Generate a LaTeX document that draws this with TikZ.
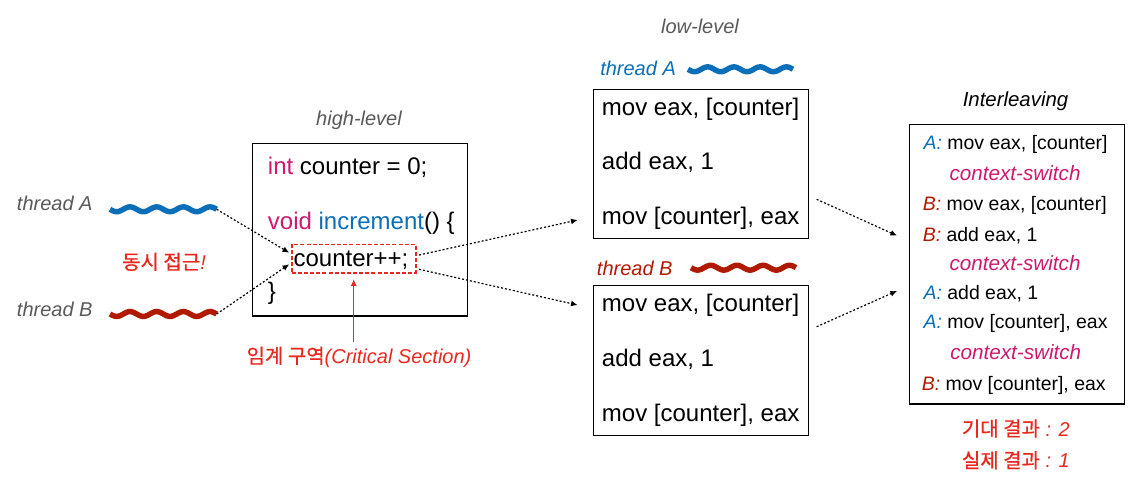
\documentclass[tikz,border=0pt]{standalone}
\usepackage{fontspec}
\setmainfont{Liberation Sans}
\newfontfamily\kr[FakeBold=0.8]{Noto Sans CJK KR}
\usetikzlibrary{arrows.meta,calc,fit}
\definecolor{tblue}{HTML}{0B6EB8}
\definecolor{tred}{HTML}{B01A00}
\definecolor{tmag}{HTML}{D0186E}
\definecolor{alert}{HTML}{E8281E}
\definecolor{lgray}{HTML}{595959}
\begin{document}
\begin{tikzpicture}[x=0.75pt,y=-0.75pt,
  box/.style={draw=black, line width=1pt, inner sep=0pt},
  txt/.style={anchor=base west, inner sep=0pt, font=\fontsize{18}{20}\selectfont},
  lbl/.style={anchor=base, inner sep=0pt, font=\fontsize{15}{18}\selectfont\itshape, text=lgray},
  ilt/.style={anchor=base west, inner sep=0pt, font=\fontsize{14.6}{17}\selectfont},
  ctx/.style={anchor=base west, inner sep=0pt, font=\fontsize{15.5}{18}\selectfont\itshape, text=tmag},
  res/.style={anchor=base, inner sep=0pt, font=\fontsize{15}{18}\selectfont, text=alert},
  conn/.style={dash pattern=on 1.5pt off 1.5pt, line width=0.9pt, -{Latex[length=5pt,width=4.5pt]}},
  wave/.style={line width=4.1pt}
]
\useasboundingbox (0,0) rectangle (1141,485);

% ---------- left threads ----------
\node[lbl, anchor=base west] (thA) at (16.7,210) {thread A};
\coordinate (wAs) at (110,209.3);
\coordinate (wAe) at (216.7,209.3);
\draw[wave, tblue] plot[domain=0:1, samples=90] ({110+106.7*\x},{209.3+2.4*sin(4*360*\x)});
\node[lbl, anchor=base west] (thB) at (16.7,316.7) {thread B};
\coordinate (wBs) at (110,314);
\coordinate (wBe) at (216.7,314);
\draw[wave, tred] plot[domain=0:1, samples=90] ({110+106.7*\x},{314+2.4*sin(4*360*\x)});
\node[res] (sim) at (164,269.3) {{\kr 동시 접근}\textit{!}};

% ---------- high-level ----------
\node[lbl] (hl) at (359,125) {high-level};
\node[box, fit={(252.3,143.3) (467.7,316)}] (high) {};
\node[txt] (t1) at (267.7,174) {\textcolor{tmag}{int} counter = 0;};
\node[txt] (t2) at (267.7,229.3) {\textcolor{tmag}{void} \textcolor{tblue}{increment}() \{};
\node[txt] (t3) at (293.3,266.7) {counter++;};
\node[txt] (t4) at (267.7,299) {\}};
\node[draw=alert, dash pattern=on 3pt off 1.6pt, line width=1.2pt, inner sep=0pt, fit={(291.7,244.3) (415.7,272.7)}] (cs) {};
\node[res] (crit) at (359,363.3) {{\kr 임계 구역}\textit{(Critical Section)}};
\draw[alert, line width=0.9pt, -{Latex[length=5pt,width=4.5pt]}] ($(cs.south |- crit.north)+(0,-4)$) -- ($(cs.south)+(0,5.6)$);

\draw[conn] (wAe) -- ($(cs.west)+(-1.7,-5.8)$);
\draw[conn] (wBe) -- ($(cs.west)+(-1.7,5.8)$);

% ---------- low-level ----------
\node[lbl] (ll) at (700,34) {low-level};
\node[anchor=base west, inner sep=0pt, font=\fontsize{15}{18}\selectfont\itshape, text=tblue] (lA) at (600,75.7) {thread A};
\draw[wave, tblue] plot[domain=0:1, samples=90] ({688+105*\x},{69.3+2.4*sin(4*360*\x)});
\node[box, fit={(593.3,89.3) (808.7,238.3)}] (boxA) {};
\node[txt] (a1) at (601.7,115) {mov eax, [counter]};
\node[txt] (a2) at (601.7,169.5) {add eax, 1};
\node[txt] (a3) at (601.7,224.5) {mov [counter], eax};

\node[anchor=base west, inner sep=0pt, font=\fontsize{15}{18}\selectfont\itshape, text=tred] (lB) at (596.7,275.7) {thread B};
\draw[wave, tred] plot[domain=0:1, samples=90] ({691+105*\x},{267.7+2.4*sin(4*360*\x)});
\node[box, fit={(593.3,285.7) (808.7,435.7)}] (boxB) {};
\node[txt] (b1) at (601.7,311.5) {mov eax, [counter]};
\node[txt] (b2) at (601.7,366) {add eax, 1};
\node[txt] (b3) at (601.7,421) {mov [counter], eax};

\draw[conn] ($(cs.east)+(2.6,-3.5)$) -- ($(boxA.west)+(-15,56.2)$);
\draw[conn] ($(cs.east)+(2.6,10.8)$) -- ($(boxB.west)+(-15,-55.7)$);

% ---------- interleaving ----------
\node[anchor=base, inner sep=0pt, font=\fontsize{15.3}{18}\selectfont\itshape] (ilt) at (1015.5,106.7) {Interleaving};
\node[box, fit={(909.3,124.3) (1124.3,404)}] (il) {};
\node[ilt] (i1) at (923.3,149) {\textcolor{tblue}{\textit{A:}} mov eax, [counter]};
\node[ctx] (i2) at (949.3,180) {context-switch};
\node[ilt] (i3) at (922.5,210) {\textcolor{tred}{\textit{B:}} mov eax, [counter]};
\node[ilt] (i4) at (922.5,241) {\textcolor{tred}{\textit{B:}} add eax, 1};
\node[ctx] (i5) at (949.3,270) {context-switch};
\node[ilt] (i6) at (923.3,299) {\textcolor{tblue}{\textit{A:}} add eax, 1};
\node[ilt] (i7) at (923.3,328.3) {\textcolor{tblue}{\textit{A:}} mov [counter], eax};
\node[ctx] (i8) at (950,359.3) {context-switch};
\node[ilt] (i9) at (921.5,390) {\textcolor{tred}{\textit{B:}} mov [counter], eax};

\node[res] (r1) at (1015.8,436) {{\kr 기대 결과}\textit{ : 2}};
\node[res] (r2) at (1015.8,467.7) {{\kr 실제 결과}\textit{ : 1}};

\draw[conn] ($(boxA.east)+(7.3,35.5)$) -- ($(il.west)+(-11.6,-28.5)$);
\draw[conn] ($(boxB.east)+(7.3,-34)$) -- ($(il.west)+(-11.6,26.8)$);
\end{tikzpicture}
\end{document}
